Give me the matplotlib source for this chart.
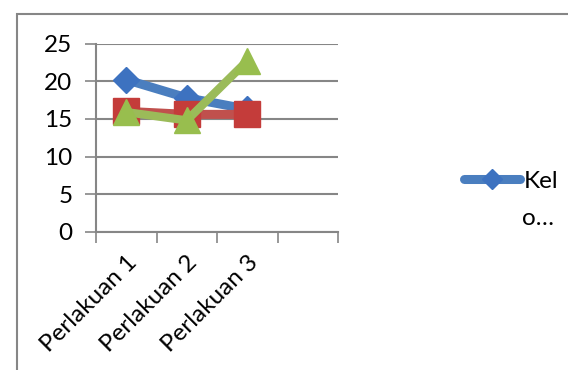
import matplotlib.pyplot as plt
from matplotlib.lines import Line2D
from matplotlib.patches import Rectangle

plt.rcParams['font.family'] = ['Lato', 'DejaVu Sans']

# data per perlakuan (4th category is empty)
categories = ['Perlakuan 1', 'Perlakuan 2', 'Perlakuan 3', '']
kel_1 = [20.2, 17.8, 16.3]
kel_2 = [16.0, 15.6, 15.6]
kel_3 = [15.9, 14.8, 22.7]
yticks = [0, 5, 10, 15, 20, 25]

blue = '#4a7ebf'
red = '#c0504d'
green = '#9bbb59'
grid_col = '#868686'

fig = plt.figure(figsize=(5.68, 3.70), dpi=100)
ax = fig.add_axes([96 / 568, 1 - 232 / 370, 242 / 568, (232 - 43.5) / 370])

x = list(range(len(kel_1)))
ax.plot(x, kel_1, color=blue, lw=6.5, marker='D', ms=13.5,
        mfc='#3d72c0', mec='#3d72c0', solid_capstyle='round', zorder=3)
ax.plot(x, kel_2, color=red, lw=6.5, marker='s', ms=19,
        mfc='#c43c3a', mec='#c43c3a', solid_capstyle='round', zorder=4)
ax.plot(x, kel_3, color=green, lw=6, marker='^', ms=19,
        mfc='#98be4e', mec='#98be4e', solid_capstyle='round', zorder=5)

ax.set_xlim(-0.5, len(categories) - 0.5)
ax.set_ylim(0, 25)
ax.set_yticks(yticks)
ax.tick_params(axis='y', length=8, width=1.2, color=grid_col, pad=9, labelsize=17.5)
ax.yaxis.grid(True, color=grid_col, lw=1.5)
ax.set_axisbelow(True)

# tick marks between categories, labels under category centres
ax.set_xticks([i - 0.5 for i in range(len(categories) + 1)])
ax.set_xticklabels([])
ax.tick_params(axis='x', which='major', length=8, width=1.2, color=grid_col)
ax.set_xticks(range(len(categories)), minor=True)
ax.set_xticklabels(categories, minor=True, rotation=45, ha='right',
                   rotation_mode='anchor', fontsize=17.5)
ax.tick_params(axis='x', which='minor', length=0, pad=14)

for side in ['top', 'right']:
    ax.spines[side].set_visible(False)
for side in ['left', 'bottom']:
    ax.spines[side].set_color(grid_col)
    ax.spines[side].set_linewidth(1.5)

# legend shows only the first series, with its label cut off
handle = Line2D([], [], color=blue, lw=6.5, marker='D', ms=10,
                mfc='#3d72c0', mec='#3d72c0', solid_capstyle='round')
fig.legend([handle], ['Kel'], loc='center left',
           bbox_to_anchor=(464 / 568, 1 - 181 / 370), frameon=False,
           fontsize=17.5, handlelength=2.3, handletextpad=0.15,
           borderpad=0, borderaxespad=0)
fig.text(522 / 568, 1 - 219 / 370, 'o…', fontsize=17.5, va='center', ha='left')

# outer chart border, running off the right and bottom edges
fig.patches.append(Rectangle((17 / 568, -0.2), 1.2, 1.2 - 14 / 370,
                             transform=fig.transFigure, fill=False,
                             ec=grid_col, lw=1.5))

fig.savefig('out.png', dpi=100)
